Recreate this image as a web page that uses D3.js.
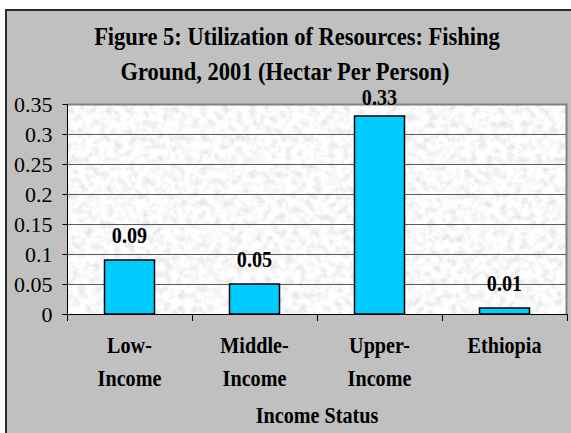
<!DOCTYPE html>
<html>
<head>
<meta charset="utf-8">
<script src="https://cdn.jsdelivr.net/npm/d3@7"></script>
<style>
  html, body { margin: 0; padding: 0; background: #ffffff; }
  svg { display: block; }
  text { font-family: "Liberation Serif", "Times New Roman", serif; fill: #000; }
</style>
</head>
<body>
<svg id="chart" width="571" height="433"></svg>
<script>
// Fishing ground use per person, 2001
const categories = ["Low-Income", "Middle-Income", "Upper-Income", "Ethiopia"];
const categoryLines = [["Low-", "Income"], ["Middle-", "Income"], ["Upper-", "Income"], ["Ethiopia"]];
const values = [0.09, 0.05, 0.33, 0.01];
const valueLabels = ["0.09", "0.05", "0.33", "0.01"];
const tickValues = [0, 0.05, 0.1, 0.15, 0.2, 0.25, 0.3, 0.35];
const tickLabels = ["0", "0.05", "0.1", "0.15", "0.2", "0.25", "0.3", "0.35"];
const titleLines = ["Figure 5: Utilization of Resources: Fishing", "Ground, 2001 (Hectar Per Person)"];
const axisTitle = "Income Status";

const svg = d3.select("#chart");
const W = 571, H = 433;
const plot = { left: 67, right: 567, top: 104, bottom: 314 };

// narrow a text element horizontally around its anchor x
function condense(sel, sx) {
  sel.attr("transform", function () {
    const ax = +d3.select(this).attr("x") || 0;
    return `translate(${ax},0) scale(${sx},1) translate(${-ax},0)`;
  });
}

// chart frame
svg.append("rect").attr("x", 0).attr("y", 0).attr("width", W).attr("height", H).attr("fill", "#ffffff");
svg.append("rect")
  .attr("x", 6).attr("y", 10).attr("width", 620).attr("height", 460)
  .attr("fill", "#c0c0c0").attr("stroke", "#2b2b2b").attr("stroke-width", 2);

// granite-like fill for the plot area
const defs = svg.append("defs");
const f = defs.append("filter").attr("id", "granite")
  .attr("x", 0).attr("y", 0).attr("width", 1).attr("height", 1)
  .attr("filterUnits", "objectBoundingBox");
f.append("feTurbulence").attr("type", "fractalNoise").attr("baseFrequency", "0.14")
  .attr("numOctaves", 3).attr("seed", 7).attr("result", "noise");
f.append("feColorMatrix").attr("in", "noise").attr("type", "matrix")
  .attr("values", "0.5 0 0 0 0.70  0.5 0 0 0 0.70  0.5 0 0 0 0.70  0 0 0 0 1")
  .attr("result", "tone");
f.append("feComposite").attr("in", "tone").attr("in2", "SourceGraphic").attr("operator", "in");

svg.append("rect")
  .attr("x", plot.left).attr("y", plot.top)
  .attr("width", plot.right - plot.left).attr("height", plot.bottom - plot.top)
  .attr("fill", "#ffffff").attr("filter", "url(#granite)");

// scales
const y = d3.scaleLinear().domain([0, 0.35]).range([plot.bottom, plot.top]);
const x = d3.scaleBand().domain(categories).range([plot.left, plot.right])
  .paddingInner(0.6).paddingOuter(0.3);
const slot = d3.scaleBand().domain(categories).range([plot.left, plot.right]).padding(0);

// gridlines
svg.append("g").selectAll("line")
  .data(tickValues.filter(v => v > 0 && v < 0.35))
  .join("line")
  .attr("x1", plot.left).attr("x2", plot.right)
  .attr("y1", d => Math.round(y(d)) + 0.5).attr("y2", d => Math.round(y(d)) + 0.5)
  .attr("stroke", "#5a5a5a").attr("stroke-width", 1);

// plot border (top and right)
svg.append("path")
  .attr("d", `M${plot.left},${plot.top + 0.5}H${plot.right - 0.5}V${plot.bottom}`)
  .attr("fill", "none").attr("stroke", "#808080").attr("stroke-width", 2);

// bars
svg.append("g").selectAll("rect")
  .data(values)
  .join("rect")
  .attr("x", (d, i) => x(categories[i]))
  .attr("y", d => y(d))
  .attr("width", x.bandwidth())
  .attr("height", d => y(0) - y(d))
  .attr("fill", "#00ccff").attr("stroke", "#000").attr("stroke-width", 1.5);

// value axis
const yAxis = d3.axisLeft(y).tickValues(tickValues)
  .tickFormat((d, i) => tickLabels[i]).tickSize(5).tickPadding(10);
const gy = svg.append("g").attr("transform", `translate(${plot.left + 0.5},0)`).call(yAxis);
gy.select(".domain").attr("stroke", "#000").attr("d", `M0,${plot.top}V${plot.bottom + 7}`).attr("fill", "none");
gy.selectAll(".tick line").attr("stroke", "#000");
gy.selectAll(".tick text").attr("font-size", 22).attr("font-family", "Liberation Serif").attr("fill", "#000");

// category axis line and tick marks between slots
svg.append("line")
  .attr("x1", plot.left - 5).attr("x2", plot.right)
  .attr("y1", plot.bottom + 0.5).attr("y2", plot.bottom + 0.5)
  .attr("stroke", "#000");
svg.append("g").selectAll("line")
  .data(categories.slice(1).map(c => slot(c)).concat([plot.right]))
  .join("line")
  .attr("x1", d => Math.round(d) + 0.5).attr("x2", d => Math.round(d) + 0.5)
  .attr("y1", plot.bottom).attr("y2", plot.bottom + 7)
  .attr("stroke", "#000");

// value labels above the bars, kept from rising past the plot top
svg.append("g").selectAll("text")
  .data(values)
  .join("text")
  .attr("x", (d, i) => x(categories[i]) + x.bandwidth() / 2)
  .attr("y", d => Math.max(y(d) - 17, plot.top + 1))
  .attr("text-anchor", "middle").attr("font-size", 24).attr("font-weight", "bold")
  .text((d, i) => valueLabels[i])
  .call(condense, 0.84);

// category labels
const cat = svg.append("g").selectAll("text")
  .data(categories)
  .join("text")
  .attr("x", c => slot(c) + slot.bandwidth() / 2)
  .attr("text-anchor", "middle").attr("font-size", 24).attr("font-weight", "bold");
cat.each(function (c, i) {
  const t = d3.select(this);
  categoryLines[i].forEach((line, j) => {
    t.append("tspan")
      .attr("x", slot(c) + slot.bandwidth() / 2)
      .attr("y", 353 + j * 33)
      .text(line);
  });
});
cat.call(condense, 0.84);

// axis title
svg.append("text")
  .attr("x", (plot.left + plot.right) / 2).attr("y", 423)
  .attr("text-anchor", "middle").attr("font-size", 24).attr("font-weight", "bold")
  .text(axisTitle)
  .call(condense, 0.84);

// chart title
svg.append("g").selectAll("text")
  .data(titleLines)
  .join("text")
  .attr("x", (d, i) => i === 0 ? 297 : 285)
  .attr("y", (d, i) => 45 + i * 35)
  .attr("text-anchor", "middle").attr("font-size", 25).attr("font-weight", "bold")
  .text(d => d)
  .call(condense, 0.9);
</script>
</body>
</html>
